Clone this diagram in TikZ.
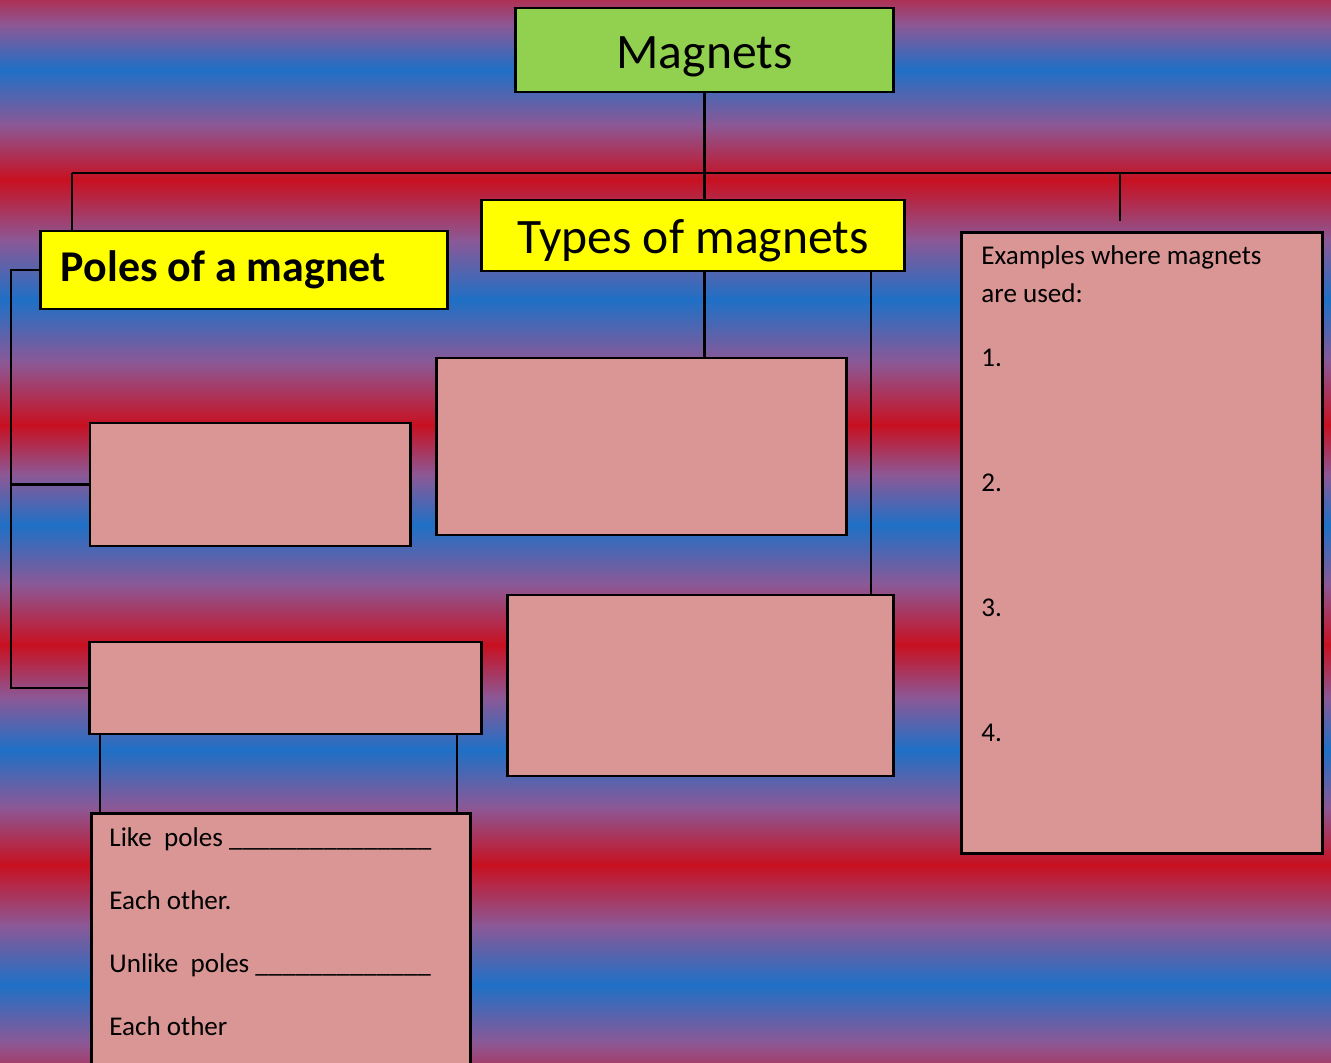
\documentclass[tikz,border=0pt]{standalone}
\usepackage{fontspec}
\setmainfont{Carlito}
\usepackage{tikz}

\definecolor{stripred}{RGB}{200,16,32}
\definecolor{stripblue}{RGB}{30,112,198}
\definecolor{stripmid}{RGB}{140,88,150}
\definecolor{titlegreen}{RGB}{146,208,80}
\definecolor{headyellow}{RGB}{255,255,0}
\definecolor{boxpink}{RGB}{217,150,148}

\newcommand\boxfont{\fontsize{7.7pt}{10.8pt}\selectfont}
\newcommand\polesfont{\fontsize{7.7pt}{17.92pt}\selectfont}

\tikzset{
    box/.style={draw=black, line width=0.8pt, inner sep=0pt},
    titlebox/.style={box, fill=titlegreen, font=\fontsize{14.1pt}{16pt}\selectfont},
    headbox/.style={box, fill=headyellow},
    pinkbox/.style={box, fill=boxpink},
    treeline/.style={draw=black, line width=0.6pt},
}

\begin{document}
\begin{tikzpicture}[x=0.01cm, y=-0.01cm]
    \useasboundingbox (0,0) rectangle (1331,1062);

    % striped background
    \begin{scope}
        \clip (0,0) rectangle (1331,1062);
        \foreach \ya/\yb/\ca/\cb in {
                -20/70/stripred/stripblue, 70/180/stripblue/stripred,
                180/300/stripred/stripblue, 300/425/stripblue/stripred,
                425/525/stripred/stripblue, 525/645/stripblue/stripred,
                645/750/stripred/stripblue, 750/865/stripblue/stripred,
                865/985/stripred/stripblue, 985/1100/stripblue/stripred}
            \shade[top color=\ca, bottom color=\cb, middle color=stripmid]
                (0,\ya-0.5) rectangle (1331,\yb+0.5);
    \end{scope}

    % boxes
    \node[titlebox, minimum width=3.77cm, minimum height=0.84cm,
        text height=0.40cm, text depth=0.04cm]
        (magnets) at (704.5,50) {Magnets};
    \node[headbox, minimum width=4.06cm, minimum height=0.78cm,
        text width=3.66cm, inner xsep=0.2cm, align=flush left,
        font=\bfseries\fontsize{12.5pt}{14pt}\selectfont]
        (poles) at (244,270) {Poles of a magnet};
    \node[headbox, minimum width=4.22cm, minimum height=0.71cm,
        text height=0.40cm, text depth=0.04cm,
        font=\fontsize{14.1pt}{16pt}\selectfont]
        (types) at (693,235.5) {Types of magnets};
    \node[pinkbox, anchor=north west, minimum width=3.61cm,
        text width=3.21cm, inner xsep=0.2cm, align=flush left,
        text height=0.32cm, text depth=5.89cm, font=\boxfont]
        (examples) at (960,231)
        {Examples where magnets\\ are used:\\[7.4pt] 1.\\[24.75pt] 2.\\[24.75pt] 3.\\[24.75pt] 4.};

    \node[pinkbox, minimum width=3.20cm, minimum height=1.23cm] (boxA) at (250,484.5) {};
    \node[pinkbox, minimum width=3.91cm, minimum height=0.92cm] (boxB) at (285.5,688) {};
    \node[pinkbox, anchor=north west, minimum width=3.79cm,
        text width=3.43cm, inner xsep=0.18cm, align=flush left,
        text height=0.33cm, text depth=2.6cm, font=\polesfont]
        (boxC) at (90,812)
        {Like~~poles \_\_\_\_\_\_\_\_\_\_\_\_\_\_\_\\
         Each other.\\
         Unlike~~poles \_\_\_\_\_\_\_\_\_\_\_\_\_\\
         Each other};
    \node[pinkbox, minimum width=4.09cm, minimum height=1.77cm] (boxD) at (641.5,446.5) {};
    \node[pinkbox, minimum width=3.85cm, minimum height=1.81cm] (boxE) at (700.5,685.5) {};

    % connectors
    \coordinate (barleft) at (72,173);
    \coordinate (barright) at (1331,173);
    \coordinate (exdrop) at (1120,221);
    \coordinate (spine) at (11,270);
    \coordinate (legleft) at (100,0);
    \coordinate (legright) at (457,0);
    \coordinate (typesleg) at (871,0);

    \draw[treeline] (magnets.south) -- (magnets.south |- types.north);
    \draw[treeline] (barleft) -- (barright);
    \draw[treeline] (barleft) -- (barleft |- poles.north);
    \draw[treeline] (exdrop |- barleft) -- (exdrop);
    \draw[treeline] (poles.west) -- (spine) |- (boxB.west);
    \draw[treeline] (boxA.west) -- (boxA.west -| spine);
    \draw[treeline] (boxB.south -| legleft) -- (boxC.north -| legleft);
    \draw[treeline] (boxB.south -| legright) -- (boxC.north -| legright);
    \draw[treeline] (types.south -| magnets.south) -- (boxD.north -| magnets.south);
    \draw[treeline] (types.south -| typesleg) -- (boxE.north -| typesleg);
\end{tikzpicture}
\end{document}
